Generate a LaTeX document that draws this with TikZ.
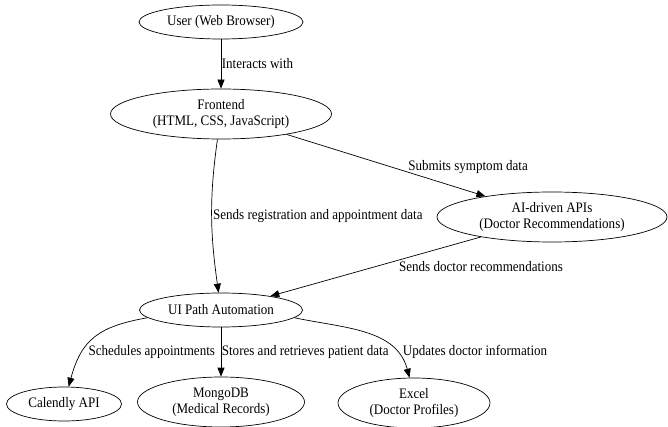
\documentclass[tikz,border=0pt]{standalone}
\usepackage{fontspec}
\setmainfont{Liberation Serif}[FakeStretch=0.9]
\usepackage{xcolor}
\usepackage{tikz}
\usetikzlibrary{positioning, arrows.meta, shapes.geometric}

\begin{document}
\begin{tikzpicture}[x=1pt, y=1pt, font=\fontsize{14.5}{16}\selectfont,
        part/.style={draw, ellipse, inner sep=0pt, align=center, line width=0.7pt},
        flow/.style={-{Triangle[length=9pt, width=7pt]}, line width=0.7pt},
        note/.style={inner sep=1pt}]
            \useasboundingbox (0,0) rectangle (668,-427);

            % Client side
            \node[part, minimum width=164, minimum height=34] (U) at (221,-22) {User (Web Browser)};
            \node[part, minimum width=221, minimum height=50] (F) at (221,-114) {Frontend\\(HTML, CSS, JavaScript)};

            % Recommendation service
            \node[part, minimum width=230, minimum height=50] (AI) at (552,-217) {AI-driven APIs\\(Doctor Recommendations)};

            % Automation and back ends
            \node[part, minimum width=163, minimum height=34] (UI) at (221,-310) {UI Path Automation};
            \node[part, minimum width=115, minimum height=34] (C) at (64,-404) {Calendly API};
            \node[part, minimum width=167, minimum height=50] (M) at (221,-402) {MongoDB\\(Medical Records)};
            \node[part, minimum width=152, minimum height=50] (E) at (414,-403) {Excel\\(Doctor Profiles)};

            % Arrows
            \draw[flow] (U) -- node[note, right, inner sep=0.5pt] {Interacts with} (F);
            \draw[flow] (F) to[out=-98, in=98] node[note, right] {Sends registration and appointment data} (UI);
            \draw[flow] (F) -- node[note, pos=0.61, anchor=south west, inner sep=0pt, yshift=-2] {Submits symptom data} (AI);
            \draw[flow] (AI) -- node[note, pos=0.39, anchor=north west, inner sep=0pt, yshift=-1.5] {Sends doctor recommendations} (UI);
            \draw[flow] (UI.186) to[out=190, in=75, looseness=1.2] node[note, pos=0.7, anchor=west, xshift=5] {Schedules appointments} (C);
            \draw[flow] (UI) -- node[note, right, inner sep=0.5pt] {Stores and retrieves patient data} (M);
            \draw[flow] (UI.-6) to[out=-12, in=105] node[note, pos=0.78, anchor=west, xshift=6] {Updates doctor information} (E.100);

        \end{tikzpicture}
\end{document}
